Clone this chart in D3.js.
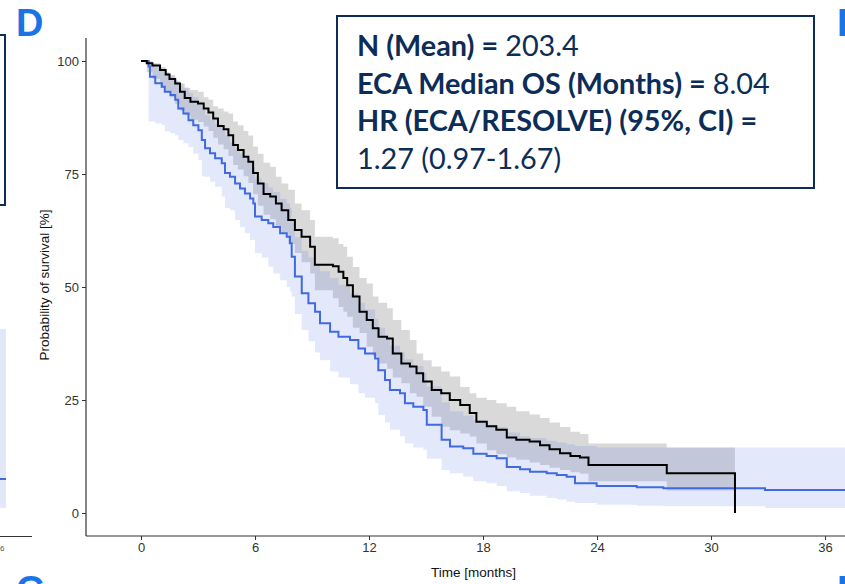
<!DOCTYPE html>
<html lang="en">
<head>
    <meta charset="UTF-8">
    <title>ECA vs RESOLVE survival</title>
    <script src="https://d3js.org/d3.v7.min.js"></script>
    <style>
        body { margin: 0; background: #fff; }
        svg { display: block; }
        .tick text { font-family: "Liberation Sans", Arial, sans-serif; font-size: 13px; fill: #333; }
        .axis-title { font-family: "Liberation Sans", Arial, sans-serif; font-size: 13.5px; fill: #111; }
        .panel-letter { font-family: "Liberation Sans", Arial, sans-serif; font-weight: bold; font-size: 38px; fill: #1a74e6; }
        .info { font-family: "Lato", "Noto Sans", sans-serif; font-size: 28.8px; fill: #0c2d57; }
    </style>
</head>
<body>
<div id="chart"></div>
<script>
// ECA (black) Kaplan-Meier estimate with 95% band
const ecaTime = [0, 0.3, 0.6, 1.0, 1.3, 1.5, 1.8, 2.05, 2.3, 2.6, 3.0, 3.3, 3.55, 3.8, 4.05, 4.35, 4.6, 4.85, 5.1, 5.4,
    5.65, 5.9, 6.15, 6.45, 6.8, 7.1, 7.4, 7.75, 8.1, 8.45, 8.9, 9.15, 10.1, 10.4, 10.65, 10.85, 11.15, 11.5, 11.88, 12.2,
    12.5, 12.95, 13.25, 13.7, 14.15, 14.5, 14.85, 15.3, 15.8, 16.25, 16.8, 17.3, 17.65, 18.2, 18.7, 19.25, 19.75, 20.45, 21.0, 21.5,
    22.05, 22.6, 23.1, 23.55, 27.67, 31.26];
const ecaSurv = [100, 99.5, 99, 98, 97, 96, 95, 93.2, 91.8, 91, 90.6, 89.5, 88.6, 87.3, 85.6, 84.9, 83.6, 81.4, 80.3, 78.8,
    77.7, 75.2, 72.9, 70.6, 70.0, 68.5, 67.0, 64.8, 62.6, 61.1, 58.9, 54.9, 54.6, 53.4, 52, 50.4, 47.9, 44.5, 42.7, 40.9,
    39.0, 38.6, 35.3, 33.1, 32.4, 30.9, 29.1, 27.2, 26.5, 25.0, 23.9, 22.1, 20.2, 19.2, 18.4, 16.7, 16.2, 15.8, 15.0, 14.1,
    13.2, 12.6, 12.3, 10.6, 8.8, 0];
const ecaLower = [100, 97.5, 96, 94, 93, 92, 90.5, 89, 88, 87, 86.5, 85.5, 84.5, 83, 81.5, 80.5, 79, 77, 76, 74.5,
    73, 70.5, 68, 66, 65, 63.5, 62, 59.5, 57.5, 55.5, 53, 49.3, 47.5, 45.6, 44.5, 43.4, 41, 39.8, 36.8, 34.6,
    33.1, 31.9, 30, 28.7, 26.5, 25.7, 23.5, 21.3, 19.1, 18.3, 17.6, 16.9, 15.4, 13.9, 13, 12.3, 11.8, 11.2, 10.6, 10,
    9.5, 9, 8.7, 7, 5, 5];
const ecaUpper = [100, 100, 99.5, 98.7, 97.5, 96.9, 95.5, 95, 94, 93.6, 93.2, 92, 91.4, 90, 89.5, 88.8, 88.4, 86.6, 85.8, 84.5,
    83.5, 81.1, 79.5, 77.5, 76.6, 74.4, 72.9, 71.5, 68.5, 67, 64.8, 61.1, 60.8, 59.5, 58.9, 56.7, 54.4, 52, 50.8, 47.9,
    46.5, 45.3, 42.7, 40.5, 38.3, 35.3, 33.8, 32.4, 31.3, 30.2, 27.9, 26.5, 25.5, 25.0, 24.3, 23.5, 22.5, 21.8, 21, 20,
    19, 18, 17.5, 15.4, 14.5, 14.5];

// RESOLVE (blue)
const resolveTime = [0, 0.4, 0.47, 0.75, 1.1, 1.25, 1.55, 1.8, 1.96, 2.23, 2.5, 2.75, 3.02, 3.2, 3.37, 3.63, 3.9, 4.25, 4.42, 4.68,
    4.95, 5.21, 5.47, 5.74, 5.91, 6.0, 6.35, 6.7, 6.96, 7.32, 7.67, 7.84, 7.93, 8.1, 8.46, 8.81, 9.16, 9.42, 9.95, 10.39,
    11.0, 11.44, 11.79, 12.32, 12.49, 12.84, 13.1, 13.63, 13.89, 14.33, 14.86, 15.04, 15.82, 16.26, 16.96, 17.49, 18.19, 18.72, 19.25, 19.95,
    20.47, 21.35, 21.88, 22.4, 22.84, 23.98, 26.09, 27.49, 32.84, 37.2];
const resolveSurv = [100, 98.8, 96.5, 95.1, 94.3, 93.2, 92.5, 91.4, 89.5, 88.4, 86.9, 85.8, 84.7, 82.5, 80.7, 79.6, 78.5, 77.4, 75.2, 74.4,
    72.9, 71.8, 70.7, 69.6, 68.5, 65.6, 64.8, 64.1, 63.3, 61.9, 61.1, 59.7, 56.7, 52.3, 48.6, 46.4, 44.5, 42.0, 40.1, 39.0,
    38.3, 36.4, 35.3, 34.2, 31.6, 29.4, 27.2, 26.5, 24.3, 23.5, 22.8, 19.5, 16.2, 14.7, 14.3, 13.1, 12.6, 12.1, 10.2, 9.7,
    9.1, 8.8, 8.4, 8.0, 6.6, 6.0, 5.7, 5.5, 5.1, 5.1];
const resolveLower = [100, 86.6, 86.6, 86.2, 85.8, 84.4, 84, 83.6, 82.5, 81.8, 81, 79.5, 78.1, 74.5, 74.4, 73.3, 72.2, 70, 67.5, 67,
    64.8, 63.3, 61.9, 60.4, 60.4, 57.5, 56.5, 54.5, 53, 51.5, 50, 49, 47.9, 44, 40.5, 38, 35.5, 33.8, 31.3, 30,
    28.5, 26.5, 25.5, 24.3, 21.7, 20, 18.4, 17, 15.4, 14.5, 14, 12, 9.5, 8.8, 8, 7, 6.6, 6, 4.8, 4.4,
    3.8, 3.3, 3, 2.5, 2.2, 1.8, 1.6, 1.5, 1.1, 1.1];
const resolveUpper = [100, 100, 99.5, 98.6, 98, 97.3, 96.6, 95.8, 95, 94.2, 93, 92, 91, 89.5, 88, 87, 86, 85, 83.5, 82,
    80.5, 79.5, 78.5, 77.5, 76.5, 74, 73, 72, 71, 69.5, 68.5, 67.5, 65, 61, 58, 56.5, 55, 53.5, 52, 50.5,
    48.5, 46.5, 45, 43, 41, 39, 37, 35.5, 34, 32.5, 31, 28, 24.5, 22.5, 21.5, 20.5, 19.5, 19, 17.8, 17,
    16.6, 16, 15.6, 15.2, 14.8, 14.5, 14.5, 14.5, 14.5, 14.5];

const xTicks = [0, 6, 12, 18, 24, 30, 36];
const yTicks = [0, 25, 50, 75, 100];

const infoLines = [
    ["N (Mean) = ", "203.4"],
    ["ECA Median OS (Months) = ", "8.04"],
    ["HR (ECA/RESOLVE) (95%, CI) = ", ""],
    ["", "1.27 (0.97-1.67)"]
];

const W = 845, H = 584;
const svg = d3.select("#chart").append("svg")
    .attr("width", W)
    .attr("height", H);

// bits of the neighbouring panels that show at the edges
svg.append("rect")
    .attr("x", -300).attr("y", 35).attr("width", 305).attr("height", 170)
    .attr("fill", "none").attr("stroke", "#0c2d57").attr("stroke-width", 2);
svg.append("rect")
    .attr("x", 0).attr("y", 329).attr("width", 6).attr("height", 179)
    .attr("fill", "#e2e7fa");
svg.append("line")
    .attr("x1", 0).attr("x2", 6).attr("y1", 479).attr("y2", 479)
    .attr("stroke", "#4169e1").attr("stroke-width", 2);
svg.append("line")
    .attr("x1", 0).attr("x2", 32).attr("y1", 536.5).attr("y2", 536.5)
    .attr("stroke", "#333").attr("stroke-width", 1);
svg.append("text")
    .attr("x", 0).attr("y", 551)
    .attr("text-anchor", "middle")
    .style("font-family", "Liberation Sans, Arial, sans-serif")
    .style("font-size", "8px").style("fill", "#555")
    .text("36");

svg.append("text").attr("class", "panel-letter").attr("x", 16).attr("y", 36).text("D");
svg.append("text").attr("class", "panel-letter").attr("x", 837).attr("y", 36).text("E");
svg.append("text").attr("class", "panel-letter").attr("x", 16).attr("y", 603).text("G");
svg.append("text").attr("class", "panel-letter").attr("x", 837).attr("y", 603).text("H");

// main plot
const x = d3.scaleLinear().domain([-2.895, 37.05]).range([86, 845]);
const y = d3.scaleLinear().domain([0, 100]).range([513, 61]);
const yTop = 38, yBottom = 536;

const eca = ecaTime.map((t, i) => ({ t: t, s: ecaSurv[i], lo: ecaLower[i], hi: ecaUpper[i] }));
const resolve = resolveTime.map((t, i) => ({ t: t, s: resolveSurv[i], lo: resolveLower[i], hi: resolveUpper[i] }));

const band = d3.area()
    .curve(d3.curveStepAfter)
    .x(d => x(d.t))
    .y0(d => y(d.lo))
    .y1(d => y(d.hi));

const line = d3.line()
    .curve(d3.curveStepAfter)
    .x(d => x(d.t))
    .y(d => y(d.s));

// band for ECA stops at its last time, keep last interval
const ecaBand = eca.slice(0, -1).concat([{ t: ecaTime[ecaTime.length - 1], lo: ecaLower[ecaLower.length - 2], hi: ecaUpper[ecaUpper.length - 2] }]);

svg.append("path")
    .datum(ecaBand)
    .attr("d", band)
    .attr("fill", "#000")
    .attr("fill-opacity", 0.15);

svg.append("path")
    .datum(resolve)
    .attr("d", band)
    .attr("fill", "#4169e1")
    .attr("fill-opacity", 0.15);

svg.append("path")
    .datum(resolve)
    .attr("d", line)
    .attr("fill", "none")
    .attr("stroke", "#4169e1")
    .attr("stroke-width", 2);

svg.append("path")
    .datum(eca)
    .attr("d", line)
    .attr("fill", "none")
    .attr("stroke", "#000")
    .attr("stroke-width", 2);

// axes
const xAxis = svg.append("g")
    .attr("transform", `translate(0,${yBottom})`)
    .call(d3.axisBottom(x).tickValues(xTicks).tickSize(4).tickPadding(3));
xAxis.select(".domain").remove();
svg.append("line")
    .attr("x1", 86).attr("x2", 845).attr("y1", yBottom).attr("y2", yBottom)
    .attr("stroke", "#333").attr("stroke-width", 1.2);

const yAxis = svg.append("g")
    .attr("transform", "translate(86,0)")
    .call(d3.axisLeft(y).tickValues(yTicks).tickSize(4).tickPadding(3));
yAxis.select(".domain").remove();
svg.append("line")
    .attr("x1", 86).attr("x2", 86).attr("y1", yTop).attr("y2", yBottom)
    .attr("stroke", "#333").attr("stroke-width", 1.2);

svg.selectAll(".tick line").attr("stroke", "#333");

svg.append("text")
    .attr("class", "axis-title")
    .attr("x", x(17.5))
    .attr("y", 577)
    .attr("text-anchor", "middle")
    .text("Time [months]");

svg.append("text")
    .attr("class", "axis-title")
    .attr("transform", "rotate(-90)")
    .attr("x", -285)
    .attr("y", 49)
    .attr("text-anchor", "middle")
    .text("Probability of survival [%]");

// info box
svg.append("rect")
    .attr("x", 337).attr("y", 16).attr("width", 477).attr("height", 172)
    .attr("fill", "#fff").attr("stroke", "#0c2d57").attr("stroke-width", 2);

const info = svg.append("text").attr("class", "info");
infoLines.forEach((ln, i) => {
    const row = info.append("tspan").attr("x", 357).attr("y", 56 + i * 37.5);
    if (ln[0]) row.append("tspan").attr("font-weight", "bold").text(ln[0]);
    if (ln[1]) row.append("tspan").text(ln[1]);
});
</script>
</body>
</html>
